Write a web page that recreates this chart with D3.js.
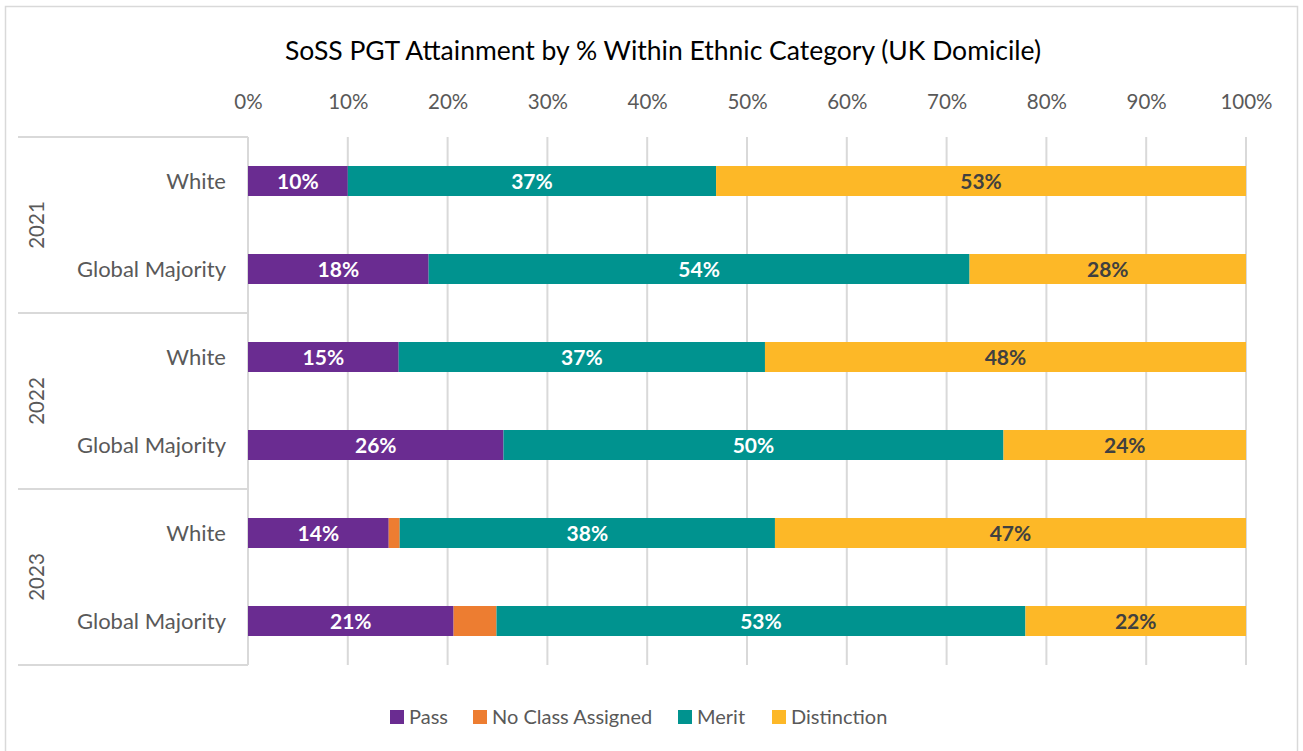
<!DOCTYPE html>
<html>
<head>
<meta charset="utf-8">
<script src="https://cdn.jsdelivr.net/npm/d3@7"></script>
<style>
  body { margin: 0; background: #fff; }
  svg text { font-family: Lato, "Open Sans", sans-serif; }
</style>
</head>
<body>
<div id="chart"></div>
<script>
// chart values (percent of each row)
var years = ["2021", "2022", "2023"];
var groups = ["White", "Global Majority"];
var seriesNames = ["Pass", "No Class Assigned", "Merit", "Distinction"];
var passVals = [10.0, 18.1, 15.1, 25.6, 14.1, 20.6];
var noClassVals = [0, 0, 0, 0, 1.1, 4.3];
var meritVals = [36.9, 54.2, 36.7, 50.1, 37.6, 53.0];
var distinctionVals = [53.1, 27.7, 48.2, 24.3, 47.2, 22.1];
var tickVals = [0, 10, 20, 30, 40, 50, 60, 70, 80, 90, 100];

var colors = ["#6A2C91", "#ED7D31", "#00938F", "#FDB827"];
var labelColors = ["#ffffff", "#ffffff", "#ffffff", "#404040"];

var svgWidth = 1303;
var svgHeight = 751;

// plot box
var plotLeft = 248, plotRight = 1246, plotTop = 137, plotBottom = 665;

var svg = d3.select("#chart")
  .append("svg")
  .attr("width", svgWidth)
  .attr("height", svgHeight);

// outer chart border
svg.append("rect")
  .attr("x", 5.5).attr("y", 6.5)
  .attr("width", 1292).attr("height", 760)
  .attr("fill", "none")
  .attr("stroke", "#D9D9D9")
  .attr("stroke-width", 1.5);

svg.append("text")
  .attr("x", 663)
  .attr("y", 60)
  .attr("text-anchor", "middle")
  .attr("font-size", "26.5px")
  .attr("fill", "#000")
  .text("SoSS PGT Attainment by % Within Ethnic Category (UK Domicile)");

// rows
var rows = [];
years.forEach(function(y) {
  groups.forEach(function(g) { rows.push({ year: y, group: g }); });
});
rows.forEach(function(r, i) {
  r.vals = [passVals[i], noClassVals[i], meritVals[i], distinctionVals[i]];
});

var xScale = d3.scaleLinear().domain([0, 100]).range([plotLeft, plotRight]);
var yScale = d3.scaleBand()
  .domain(d3.range(rows.length))
  .range([plotTop, plotBottom]);
var yearScale = d3.scaleBand().domain(years).range([plotTop, plotBottom]);

var barH = 30;

// gridlines
svg.append("g")
  .selectAll("line")
  .data(tickVals.filter(function(d) { return d > 0; }))
  .enter().append("line")
  .attr("x1", function(d) { return xScale(d); })
  .attr("x2", function(d) { return xScale(d); })
  .attr("y1", plotTop)
  .attr("y2", plotBottom)
  .attr("stroke", "#D9D9D9")
  .attr("stroke-width", 2);

// top axis labels
var xAxis = d3.axisTop(xScale)
  .tickValues(tickVals)
  .tickSize(0)
  .tickFormat(function(d) { return d + "%"; });
var xg = svg.append("g")
  .attr("transform", "translate(0,112)")
  .call(xAxis);
xg.select(".domain").remove();
xg.selectAll("text")
  .attr("dy", 0)
  .attr("font-size", "20.5px")
  .attr("fill", "#595959")
  .style("font-family", "Lato, sans-serif");

// category frame lines
var frame = svg.append("g").attr("stroke", "#D9D9D9").attr("stroke-width", 2);
frame.append("line")
  .attr("x1", plotLeft).attr("x2", plotLeft)
  .attr("y1", plotTop).attr("y2", plotBottom);
years.forEach(function(y) {
  frame.append("line")
    .attr("x1", 18).attr("x2", plotLeft)
    .attr("y1", yearScale(y)).attr("y2", yearScale(y));
});
frame.append("line")
  .attr("x1", 18).attr("x2", plotLeft)
  .attr("y1", plotBottom).attr("y2", plotBottom);

// stacked bars
var stacked = rows.map(function(r, i) {
  var acc = 0;
  return r.vals.map(function(v, k) {
    var seg = { row: i, k: k, x0: acc, x1: acc + v, v: v };
    acc += v;
    return seg;
  });
});
var segs = [].concat.apply([], stacked);

svg.append("g")
  .selectAll("rect")
  .data(segs)
  .enter().append("rect")
  .attr("x", function(d) { return xScale(d.x0); })
  .attr("width", function(d) { return xScale(d.x1) - xScale(d.x0); })
  .attr("y", function(d) { return yScale(d.row) + yScale.bandwidth() / 2 - barH / 2; })
  .attr("height", barH)
  .attr("fill", function(d) { return colors[d.k]; });

// data labels (no label for the thin no-class segments)
svg.append("g")
  .selectAll("text")
  .data(segs.filter(function(d) { return d.k !== 1 && d.v > 0; }))
  .enter().append("text")
  .attr("x", function(d) { return xScale((d.x0 + d.x1) / 2); })
  .attr("y", function(d) { return yScale(d.row) + yScale.bandwidth() / 2; })
  .attr("dy", "0.36em")
  .attr("text-anchor", "middle")
  .attr("font-size", "21px")
  .attr("font-weight", "bold")
  .attr("fill", function(d) { return labelColors[d.k]; })
  .text(function(d) { return Math.round(d.v) + "%"; });

// category labels
svg.append("g")
  .selectAll("text")
  .data(rows)
  .enter().append("text")
  .attr("x", 226)
  .attr("y", function(d, i) { return yScale(i) + yScale.bandwidth() / 2; })
  .attr("dy", "0.35em")
  .attr("text-anchor", "end")
  .attr("font-size", "22px")
  .attr("fill", "#595959")
  .text(function(d) { return d.group; });

// year labels
svg.append("g")
  .selectAll("text")
  .data(years)
  .enter().append("text")
  .attr("transform", function(d) {
    return "translate(37," + (yearScale(d) + yearScale.bandwidth() / 2) + ") rotate(-90)";
  })
  .attr("dy", "0.35em")
  .attr("text-anchor", "middle")
  .attr("font-size", "20.5px")
  .attr("fill", "#595959")
  .text(function(d) { return d; });

// legend
var legendX = [390, 473, 678, 772];
var legend = svg.append("g");
seriesNames.forEach(function(name, k) {
  legend.append("rect")
    .attr("x", legendX[k]).attr("y", 710)
    .attr("width", 14).attr("height", 14)
    .attr("fill", colors[k]);
  legend.append("text")
    .attr("x", legendX[k] + 19)
    .attr("y", 717)
    .attr("dy", "0.35em")
    .attr("font-size", "20px")
    .attr("fill", "#595959")
    .text(name);
});
</script>
</body>
</html>
